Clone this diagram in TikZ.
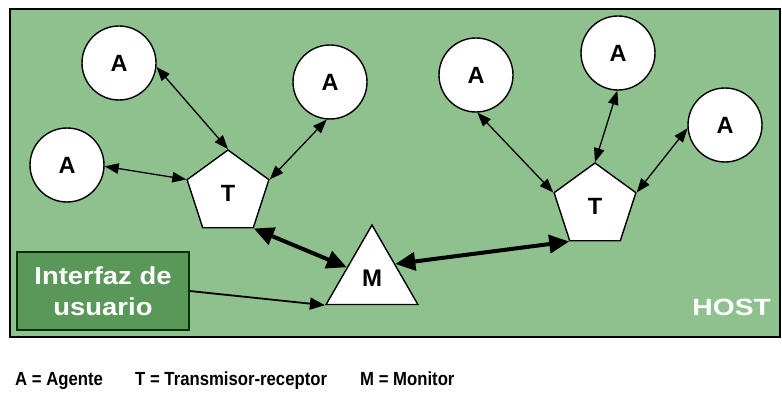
\documentclass[tikz,border=0pt]{standalone}
\usepackage{fontspec}
\setmainfont{Liberation Sans}
\usetikzlibrary{shapes.geometric,arrows.meta}
\definecolor{hostgreen}{RGB}{143,193,143}
\definecolor{uigreen}{RGB}{90,152,90}
\begin{document}
\begin{tikzpicture}[x=1pt,y=-1pt,
  agent/.style={circle,draw,fill=white,line width=1.4pt,minimum size=74pt,inner sep=0pt,
    font=\fontsize{23.5}{23.5}\selectfont\bfseries},
  trans/.style={regular polygon,regular polygon sides=5,draw,fill=white,line width=1.4pt,
    minimum size=86pt,inner sep=0pt,font=\fontsize{23.5}{23.5}\selectfont\bfseries},
  monitor/.style={regular polygon,regular polygon sides=3,draw,fill=white,line width=1.4pt,
    minimum size=106pt,inner sep=0pt,font=\fontsize{24}{24}\selectfont\bfseries},
  uibox/.style={rectangle,draw=black!80!green,fill=uigreen,line width=1.3pt,
    minimum width=172pt,minimum height=78pt,inner sep=0pt,text=white,
    font=\fontsize{24.5}{31}\selectfont\bfseries,align=center},
  thin/.style={line width=1.3pt,{Triangle[length=14pt,width=10.5pt]}-{Triangle[length=14pt,width=10.5pt]}},
  thick/.style={line width=4pt,{Triangle[length=20pt,width=18pt]}-{Triangle[length=20pt,width=18pt]}},
  oneway/.style={line width=1.8pt,-{Triangle[length=15pt,width=12pt]}},
  legend/.style={anchor=base west,inner sep=0pt,font=\fontsize{19}{19}\selectfont\bfseries},
  hostlabel/.style={anchor=base east,inner sep=0pt,text=white,font=\fontsize{23.5}{23.5}\selectfont\bfseries}
]
\useasboundingbox (0,0) rectangle (782,401);
\fill[white] (0,0) rectangle (782,401);
\draw[fill=hostgreen,line width=1.3pt] (10,9) rectangle (780,337);

% agents
\node[agent] (a1) at (119,63) {A};
\node[agent] (a2) at (330,82) {A};
\node[agent] (a3) at (67,165) {A};
\node[agent] (a4) at (476,75) {A};
\node[agent] (a5) at (618,53) {A};
\node[agent] (a6) at (725,125) {A};

% transceivers
\node[trans] (t1) at (228,193) {T};
\node[trans] (t2) at (595,206) {T};

% monitor
\node[monitor] (m) at (372,278) {M};

% user interface
\node[uibox] (ui) at (103,291) {\scalebox{1.12}[1]{Interfaz de}\\\scalebox{1.12}[1]{usuario}};

% host label
\node[hostlabel] (host) at (771,315) {\scalebox{1.2}[1]{HOST}};

% connectors left cluster
\draw[thin] (a1.-6) -- (t1.corner 1);
\draw[thin] (a2.-95) -- (t1.corner 5);
\draw[thin] (a3.-2) -- (t1.corner 2);
\draw[thick] (t1.corner 4) -- (m.157);
\draw[oneway] (ui.east) -- (m.corner 2);

% connectors right cluster
\draw[thin] (a4.-88) -- (t2.corner 2);
\draw[thin] (a5.-91) -- (t2.corner 1);
\draw[thin] (a6.185) -- (t2.corner 5);
\draw[thick] (m.31) -- (t2.corner 3);

% legend
\node[legend] (l1) at (15,385) {\scalebox{0.88}[1]{A = Agente}};
\node[legend] (l2) at (135,385) {\scalebox{0.88}[1]{T = Transmisor-receptor}};
\node[legend] (l3) at (360,385) {\scalebox{0.88}[1]{M = Monitor}};
\end{tikzpicture}
\end{document}
